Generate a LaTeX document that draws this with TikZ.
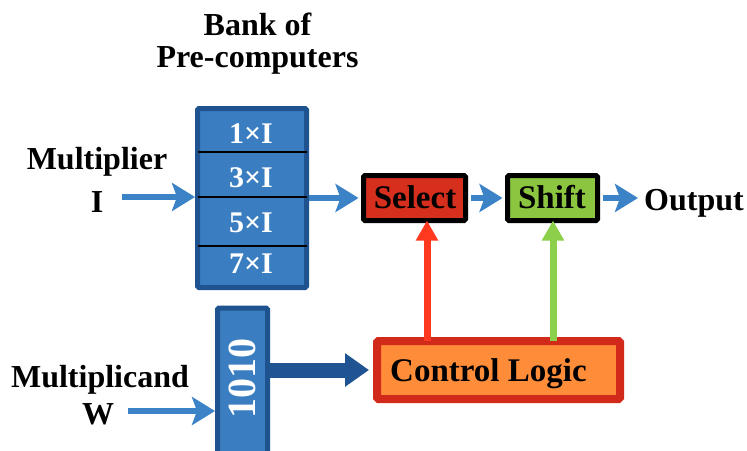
\documentclass[tikz,border=0pt]{standalone}
\usepackage{fontspec}
\setmainfont{Liberation Serif}
\usetikzlibrary{arrows.meta}
\definecolor{bankfill}{HTML}{3A7EC1}
\definecolor{bankborder}{HTML}{1E5390}
\definecolor{arrowblue}{HTML}{3B82C6}
\definecolor{darkarrow}{HTML}{1F5392}
\definecolor{selectred}{HTML}{D62F1E}
\definecolor{shiftgreen}{HTML}{8CC640}
\definecolor{clorange}{HTML}{FF8C38}
\definecolor{clborder}{HTML}{D22A1A}
\definecolor{redarrow}{HTML}{FF3820}
\definecolor{greenarrow}{HTML}{8CCF4B}
\begin{document}
\begin{tikzpicture}[x=1pt,y=-1pt,
  lbl/.style={font=\fontsize{32}{32}\selectfont\bfseries, inner sep=0pt, anchor=base},
  boxlbl/.style={font=\fontsize{33}{33}\selectfont\bfseries, inner sep=0pt, anchor=base},
  celllbl/.style={font=\fontsize{30}{30}\selectfont\bfseries, text=white, inner sep=0pt, anchor=base},
  blueframe/.style={draw=bankborder, fill=bankfill, line width=5pt, rounded corners=1.5pt},
  blackbox/.style={draw=black, line width=5pt, rounded corners=1.5pt, minimum width=102pt, minimum height=45pt, inner sep=0pt},
  thinarrow/.style={-{Stealth[length=23pt,width=28pt,inset=5pt]}, line width=5.5pt, draw=arrowblue},
  ctrlarrow/.style={-{Triangle[length=20pt,width=21pt]}, line width=7pt},
  divider/.style={draw=black, line width=2.5pt}
]
\clip (0,0) rectangle (747,450);
\fill[white] (0,0) rectangle (747,450);

% bank of pre-computers
\node[lbl] (banktitle1) at (257.5,35) {Bank of};
\node[lbl] (banktitle2) at (257.5,67) {Pre-computers};
\node[blueframe, minimum width=109pt, minimum height=179pt, inner sep=0pt] (bank) at (252,198) {};
\coordinate (d1l) at (197.5,152); \coordinate (d1r) at (306.5,152);
\coordinate (d2l) at (197.5,197); \coordinate (d2r) at (306.5,197);
\coordinate (d3l) at (197.5,246); \coordinate (d3r) at (306.5,246);
\draw[divider] (d1l) -- (d1r);
\draw[divider] (d2l) -- (d2r);
\draw[divider] (d3l) -- (d3r);
\node[celllbl] (c1) at (251,143) {1×I};
\node[celllbl] (c3) at (251,187.5) {3×I};
\node[celllbl] (c5) at (251,232) {5×I};
\node[celllbl] (c7) at (251,273) {7×I};

% multiplier input
\node[lbl] (mult) at (97,169) {Multiplier};
\node[lbl] (multI) at (97,212) {I};
\coordinate (multstart) at (122,197);
\draw[thinarrow] (multstart) -- (bank.west |- multstart);

% select and shift
\node[blackbox, fill=selectred, minimum width=102pt] (select) at (414.5,198) {};
\node[boxlbl] (selectlbl) at (415,208) {Select};
\node[blackbox, fill=shiftgreen, minimum width=90pt] (shift) at (552.5,198) {};
\node[boxlbl] (shiftlbl) at (552,208) {Shift};
\node[lbl, anchor=base west] (output) at (644,210) {Output};
\coordinate (outend) at (638,198);

\draw[thinarrow] (bank.east |- select.west) -- ([xshift=-2.5pt]select.west);
\draw[thinarrow] ([xshift=2.5pt]select.east) -- ([xshift=-2.5pt]shift.west);
\draw[thinarrow] ([xshift=2.5pt]shift.east) -- (outend);

% multiplicand register
\node[blueframe, minimum width=50pt, minimum height=170pt, inner sep=0pt, anchor=north] (reg) at (242.5,305.5) {};
\node[font=\fontsize{40}{40}\selectfont\bfseries, text=white, inner sep=0pt, rotate=90] (regtxt) at (242,378) {1010};
\node[lbl] (mcand) at (100,387) {Multiplicand};
\node[lbl] (mcandW) at (98,424) {W};
\coordinate (mcandstart) at (128,411);
\draw[thinarrow] (mcandstart) -- (reg.west |- mcandstart);

% control logic
\node[draw=clborder, fill=clorange, line width=8pt, rounded corners=1.5pt, minimum width=243pt, minimum height=58pt, inner sep=0pt] (ctrl) at (498.5,370) {};
\node[boxlbl, anchor=base west] (ctrllbl) at (390,381) {Control Logic};

\draw[-{Triangle[length=24pt,width=32pt]}, line width=15pt, draw=darkarrow] (reg.east |- ctrl.west) -- ([xshift=-4pt]ctrl.west);

\draw[ctrlarrow, draw=redarrow] ([yshift=-4pt]ctrl.north -| 427,0) -- ([yshift=2.5pt]select.south -| 427,0);
\draw[ctrlarrow, draw=greenarrow] ([yshift=-4pt]ctrl.north -| 553,0) -- ([yshift=2.5pt]shift.south -| 553,0);
\end{tikzpicture}
\end{document}
